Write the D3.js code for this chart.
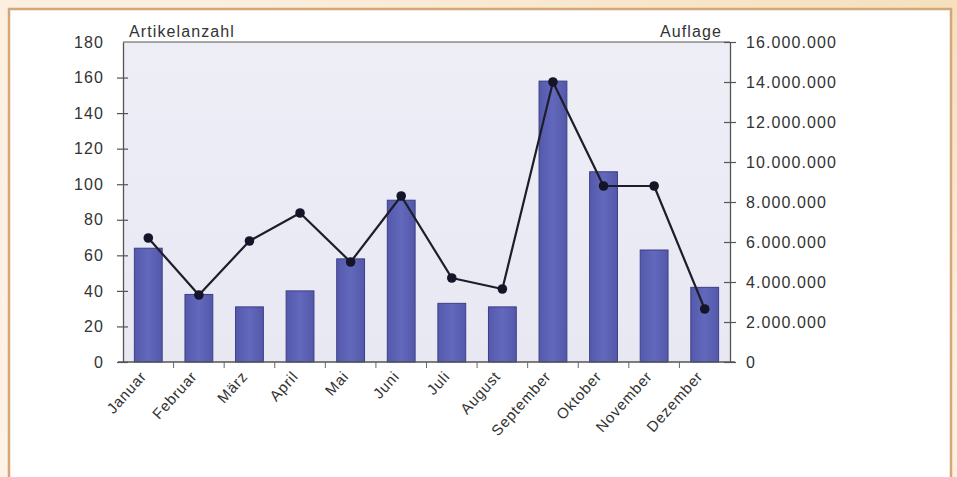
<!DOCTYPE html>
<html>
<head>
<meta charset="utf-8">
<script src="https://cdn.jsdelivr.net/npm/d3@7"></script>
<style>
  html, body { margin: 0; padding: 0; background: #fcefdf; }
  svg { display: block; }
  text { font-family: "Liberation Sans", Arial, sans-serif; fill: #333; }
</style>
</head>
<body>
<svg id="chart" width="957" height="477"></svg>
<script>
// Monthly article count (bars, left axis) and circulation (line, right axis)
const months = ["Januar", "Februar", "März", "April", "Mai", "Juni", "Juli",
                "August", "September", "Oktober", "November", "Dezember"];
const artikelanzahl = [64, 38, 31, 40, 58, 91, 33, 31, 158, 107, 63, 42];
const auflage = [6200000, 3350000, 6050000, 7450000, 5000000, 8300000, 4200000,
                 3650000, 14000000, 8800000, 8800000, 2650000];
const leftTicks = [0, 20, 40, 60, 80, 100, 120, 140, 160, 180];
const rightTicks = [0, 2000000, 4000000, 6000000, 8000000, 10000000,
                    12000000, 14000000, 16000000];

const svg = d3.select("#chart");
const W = 957, H = 477;
const FS = 16, LS = 1.1;   // label font size and tracking

// page background with a warm tint towards the upper right
const defs = svg.append("defs");
const bg = defs.append("linearGradient").attr("id", "bg")
  .attr("x1", "0").attr("y1", "1").attr("x2", "1").attr("y2", "0");
bg.append("stop").attr("offset", "0").attr("stop-color", "#fdf2e6");
bg.append("stop").attr("offset", "0.6").attr("stop-color", "#fcefdf");
bg.append("stop").attr("offset", "1").attr("stop-color", "#f5e0bd");
svg.append("rect").attr("width", W).attr("height", H).attr("fill", "url(#bg)");

// white card with tan border
svg.append("rect")
  .attr("x", 9).attr("y", 9).attr("width", 942).attr("height", H + 20)
  .attr("fill", "#ffffff").attr("stroke", "#d4a679").attr("stroke-width", 2.5);

const plot = { left: 123, right: 730, top: 42, bottom: 362 };

const x = d3.scaleBand().domain(months)
  .range([plot.left, plot.right]).paddingInner(0.45).paddingOuter(0.225);
const yL = d3.scaleLinear().domain([0, 180]).range([plot.bottom, plot.top]);
const yR = d3.scaleLinear().domain([0, 16000000]).range([plot.bottom, plot.top]);

// plot area
const pg = defs.append("linearGradient").attr("id", "plotbg")
  .attr("x1", "0").attr("y1", "0").attr("x2", "0").attr("y2", "1");
pg.append("stop").attr("offset", "0").attr("stop-color", "#eeeef7");
pg.append("stop").attr("offset", "1").attr("stop-color", "#e8e8f3");
svg.append("rect")
  .attr("x", plot.left).attr("y", plot.top)
  .attr("width", plot.right - plot.left).attr("height", plot.bottom - plot.top)
  .attr("fill", "url(#plotbg)");

// top frame line
svg.append("line")
  .attr("x1", plot.left).attr("x2", plot.right)
  .attr("y1", plot.top).attr("y2", plot.top)
  .attr("stroke", "#555").attr("stroke-width", 1.2);

// bars
const barGrad = defs.append("linearGradient").attr("id", "bar")
  .attr("x1", "0").attr("y1", "0").attr("x2", "1").attr("y2", "0");
barGrad.append("stop").attr("offset", "0").attr("stop-color", "#5459ac");
barGrad.append("stop").attr("offset", "0.5").attr("stop-color", "#6268bb");
barGrad.append("stop").attr("offset", "1").attr("stop-color", "#5358aa");

svg.append("g").selectAll("rect")
  .data(months)
  .join("rect")
  .attr("x", d => x(d))
  .attr("width", x.bandwidth())
  .attr("y", (d, i) => yL(artikelanzahl[i]))
  .attr("height", (d, i) => yL(0) - yL(artikelanzahl[i]))
  .attr("fill", "url(#bar)")
  .attr("stroke", "#3b3f86").attr("stroke-width", 1);

// axes
const axisStyle = g => {
  g.selectAll("path.domain").attr("stroke", "#555").attr("stroke-width", 1.3);
  g.selectAll(".tick line").attr("stroke", "#555").attr("stroke-width", 1.2);
  g.selectAll(".tick text").attr("font-size", FS).attr("fill", "#333")
    .attr("letter-spacing", LS)
    .attr("font-family", "Liberation Sans, Arial, sans-serif");
};

const fmtDE = v => d3.format(",")(v).replace(/,/g, ".");

const leftAxis = svg.append("g")
  .attr("transform", `translate(${plot.left},0)`)
  .call(d3.axisLeft(yL).tickValues(leftTicks).tickSizeInner(6).tickSizeOuter(0).tickPadding(13))
  .call(axisStyle);
leftAxis.selectAll(".tick line").attr("x2", -6).attr("x1", 5);
leftAxis.selectAll(".tick").filter(d => d === 180).select("line").remove();

const rightAxis = svg.append("g")
  .attr("transform", `translate(${plot.right},0)`)
  .call(d3.axisRight(yR).tickValues(rightTicks).tickFormat(fmtDE)
    .tickSizeInner(6).tickSizeOuter(0).tickPadding(10))
  .call(axisStyle);
rightAxis.selectAll(".tick line").attr("x1", -6).attr("x2", 6);

// bottom axis with ticks at category boundaries
const bottom = svg.append("g").attr("transform", `translate(0,${plot.bottom})`);
bottom.append("line")
  .attr("x1", plot.left - 5).attr("x2", plot.right + 5)
  .attr("stroke", "#555").attr("stroke-width", 1.3);
const step = x.step();
const bounds = d3.range(1, months.length).map(i => x(months[i]) - x.paddingInner() * step / 2);
bottom.selectAll("line.tk").data(bounds).join("line")
  .attr("class", "tk")
  .attr("x1", d => d).attr("x2", d => d)
  .attr("y1", 0).attr("y2", 6)
  .attr("stroke", "#666").attr("stroke-width", 1);

// rotated month labels
bottom.selectAll("text.m").data(months).join("text")
  .attr("class", "m")
  .attr("font-size", FS - 1)
  .attr("letter-spacing", 0.8)
  .attr("text-anchor", "end")
  .attr("transform", d => `translate(${x(d) + x.bandwidth() / 2 - 1},${15}) rotate(-48)`)
  .text(d => d);

// circulation line and markers
const line = d3.line()
  .x((d, i) => x(months[i]) + x.bandwidth() / 2)
  .y(d => yR(d));
svg.append("path")
  .datum(auflage)
  .attr("d", line)
  .attr("fill", "none")
  .attr("stroke", "#1e1e2a").attr("stroke-width", 2.2)
  .attr("stroke-linejoin", "round");
svg.append("g").selectAll("circle")
  .data(auflage)
  .join("circle")
  .attr("cx", (d, i) => x(months[i]) + x.bandwidth() / 2)
  .attr("cy", d => yR(d))
  .attr("r", 4.8)
  .attr("fill", "#15152a");

// axis titles
svg.append("text").attr("x", plot.left + 6).attr("y", plot.top - 5)
  .attr("font-size", FS).attr("letter-spacing", LS).text("Artikelanzahl");
svg.append("text").attr("x", plot.right - 8).attr("y", plot.top - 5)
  .attr("font-size", FS).attr("letter-spacing", LS)
  .attr("text-anchor", "end").text("Auflage");
</script>
</body>
</html>
